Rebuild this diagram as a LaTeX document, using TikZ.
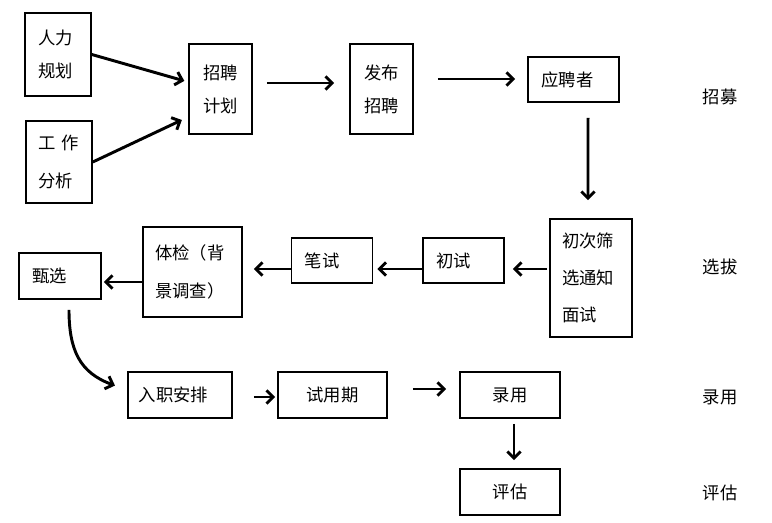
\documentclass[tikz,border=0pt]{standalone}
\usepackage{fontspec}
\setmainfont{Noto Sans CJK SC}
\usetikzlibrary{arrows.meta}

\begin{document}
\begin{tikzpicture}[
                        x=0.75pt, y=-0.75pt,
                        >={Straight Barb[length=5pt,width=10pt]},
                        blk/.style={rectangle, draw, line width=1.2pt, inner sep=0pt, align=center,
                                    font=\fontsize{13}{24.75}\selectfont},
                        wide/.style={font=\fontsize{13}{28}\selectfont},
                        lbl/.style={inner sep=0pt, font=\fontsize{13}{16}\selectfont},
                        arr/.style={->, line width=2.2pt}
                    ]
                    \useasboundingbox (0,0) rectangle (772,523);

                    % Blocks
                    \node [blk, minimum width=49.5pt, minimum height=62.25pt, text width=30pt, align=left] (hrplan) at (58,54.5) {人力\\规划};
                    \node [blk, wide, minimum width=49.5pt, minimum height=61.5pt, text width=31pt, align=left] (jobana) at (59,162) {工 作\\分析};
                    \node [blk, minimum width=47.25pt, minimum height=67.5pt] (recplan) at (220.5,89) {招聘\\计划};
                    \node [blk, minimum width=47.25pt, minimum height=67.5pt] (publish) at (381.5,89) {发布\\招聘};
                    \node [blk, minimum width=68.25pt, minimum height=33.75pt, text width=48pt, align=left] (applicant) at (573.5,79.5) {应聘者};

                    \node [blk, wide, minimum width=61.5pt, minimum height=88.5pt, text width=43.5pt, align=left] (screen) at (591,278) {初次筛\\选通知\\面试};
                    \node [blk, minimum width=60.75pt, minimum height=33.75pt, text width=41pt, align=left] (firsttest) at (463.5,260.5) {初试};
                    \node [blk, minimum width=60.75pt, minimum height=33.75pt, text width=41pt, align=left] (written) at (332,260.5) {笔试};
                    \node [blk, wide, minimum width=74.25pt, minimum height=67.5pt, text width=56pt, align=left] (physical) at (192.5,272) {体检（背\\景调查）};
                    \node [blk, minimum width=61.5pt, minimum height=34.5pt, text width=42pt, align=left] (selection) at (60,276) {甄选};

                    \node [blk, minimum width=78pt, minimum height=34.5pt, text width=62pt, align=left] (onboard) at (180,395) {入职安排};
                    \node [blk, minimum width=81.75pt, minimum height=34.5pt] (probation) at (332.5,395) {试用期};
                    \node [blk, minimum width=75pt, minimum height=34.5pt] (hire) at (510,395) {录用};
                    \node [blk, minimum width=75pt, minimum height=34.5pt] (evaluate) at (510,492) {评估};

                    % Stage labels
                    \node [lbl] (lblrecruit) at (720,97) {招募};
                    \node [lbl] (lblselect) at (720,267) {选拔};
                    \node [lbl] (lblhire) at (720,397) {录用};
                    \node [lbl] (lbleval) at (720,493) {评估};

                    % Connections
                    \draw [arr, shorten >=3pt] (hrplan.east) -- ([yshift=5.25pt]recplan.west);
                    \draw [arr, shorten >=5.25pt] (jobana.east) -- ([yshift=-21pt]recplan.west);
                    \draw [arr, shorten <=10.5pt, shorten >=11.25pt] ([yshift=4.5pt]recplan.east) -- ([yshift=4.5pt]publish.west);
                    \draw [arr, shorten <=18pt, shorten >=9pt] ([yshift=7.5pt]publish.east) -- ([yshift=0.375pt]applicant.west);
                    \draw [arr, shorten <=11.25pt, shorten >=13.5pt] ([xshift=10.9pt]applicant.south) -- ([xshift=-2.25pt]screen.north);
                    \draw [arr, shorten <=1.5pt, shorten >=6pt] ([yshift=6.75pt]screen.west) -- ([yshift=-6.375pt]firsttest.east);
                    \draw [arr, shorten >=3pt] ([yshift=-6.375pt]firsttest.west) -- ([yshift=-6.375pt]written.east);
                    \draw [arr, shorten >=8.25pt] ([yshift=-6.375pt]written.west) -- ([yshift=2.25pt]physical.east);
                    \draw [arr, shorten >=1.5pt] ([yshift=-7.5pt]physical.west) -- ([yshift=-4.5pt]selection.east);
                    \draw [arr, shorten <=7.5pt, shorten >=9.75pt] ([xshift=6.75pt]selection.south) to[out=-90, in=160, looseness=1.2] ([yshift=3.75pt]onboard.west);
                    \draw [arr, shorten <=15.75pt, shorten >=1.5pt] ([yshift=-1.5pt]onboard.east) -- ([yshift=-1.5pt]probation.west);
                    \draw [arr, shorten <=18.75pt, shorten >=9.75pt] ([yshift=4.5pt]probation.east) -- ([yshift=4.5pt]hire.west);
                    \draw [arr, shorten <=3.75pt, shorten >=6pt] ([xshift=3pt]hire.south) -- ([xshift=3pt]evaluate.north);
                \end{tikzpicture}
\end{document}
